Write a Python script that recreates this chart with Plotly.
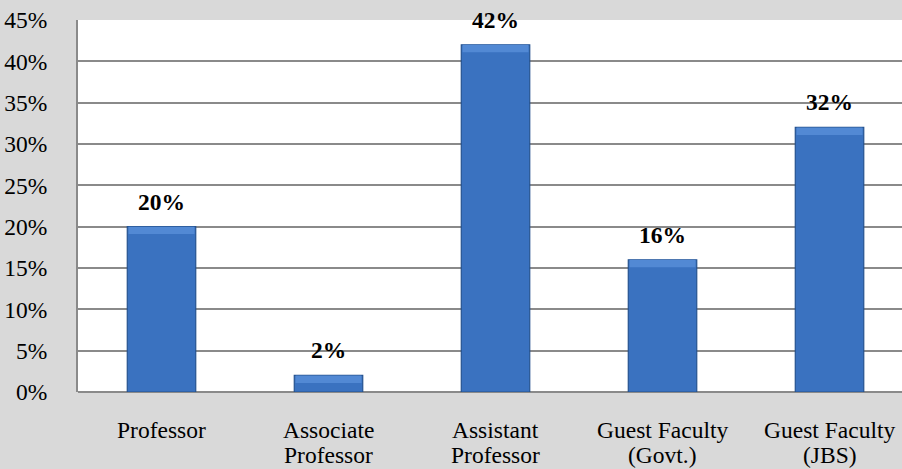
import plotly.graph_objects as go

cat_line1 = ["Professor", "Associate", "Assistant", "Guest Faculty", "Guest Faculty"]
cat_line2 = ["", "Professor", "Professor", "(Govt.)", "(JBS)"]
values = [20, 2, 42, 16, 32]
value_labels = ["20%", "2%", "42%", "16%", "32%"]
tick_vals = [0, 5, 10, 15, 20, 25, 30, 35, 40, 45]
tick_text = ["0%", "5%", "10%", "15%", "20%", "25%", "30%", "35%", "40%", "45%"]

FONT = "Liberation Serif"
FS = 23.5
BEVEL = 0.9
xs = list(range(len(values)))

fig = go.Figure()
fig.add_trace(go.Bar(
    x=xs, y=values, width=0.41,
    marker=dict(color="#3a72c0", line=dict(color="#25528f", width=1.2)),
    hoverinfo="skip",
))
# lighter top bevel strip
fig.add_trace(go.Bar(
    x=xs, y=[min(BEVEL, v / 2) for v in values],
    base=[v - min(BEVEL, v / 2) for v in values],
    width=0.395,
    marker=dict(color="#5289d4", line=dict(width=0)),
    hoverinfo="skip",
))

annotations = []
for i, (v, t) in enumerate(zip(values, value_labels)):
    annotations.append(dict(x=i, y=v, xref="x", yref="y", text="<b>%s</b>" % t,
                            showarrow=False, yanchor="middle", yshift=25,
                            font=dict(family=FONT, size=FS, color="black")))
for i, (a, b) in enumerate(zip(cat_line1, cat_line2)):
    annotations.append(dict(x=i, y=0, xref="x", yref="y", text=a, showarrow=False,
                            yanchor="middle", yshift=-38,
                            font=dict(family=FONT, size=FS, color="black")))
    if b:
        annotations.append(dict(x=i, y=0, xref="x", yref="y", text=b, showarrow=False,
                                yanchor="middle", yshift=-63,
                                font=dict(family=FONT, size=FS, color="black")))

fig.update_layout(
    width=902, height=469,
    margin=dict(l=78, r=0, t=20, b=77),
    paper_bgcolor="#d9d9d9",
    plot_bgcolor="white",
    showlegend=False,
    barmode="overlay",
    font=dict(family=FONT, size=FS, color="black"),
    annotations=annotations,
)
fig.update_xaxes(
    range=[-0.5, 4.434],
    showticklabels=False,
    showgrid=False, showline=False, ticks="", zeroline=False,
)
fig.update_yaxes(
    range=[0, 45],
    tickmode="array", tickvals=tick_vals, ticktext=tick_text,
    showgrid=True, gridcolor="#8a8a8a", gridwidth=1.6,
    showline=True, linecolor="#8a8a8a", linewidth=2,
    zeroline=True, zerolinecolor="#8a8a8a", zerolinewidth=2,
    ticks="", ticklabelstandoff=24,
    tickfont=dict(family=FONT, size=FS, color="black"),
)

fig.write_html("out.html", config={"displayModeBar": False},
               post_script="document.body.style.margin='0';")
